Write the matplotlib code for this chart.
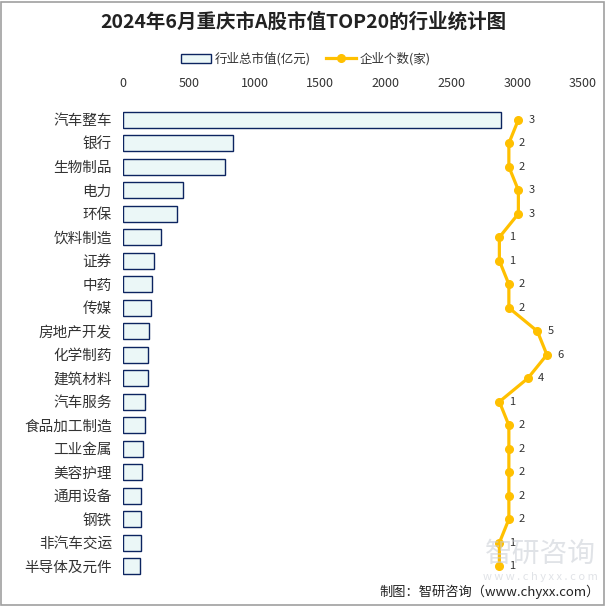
import matplotlib
matplotlib.use("Agg")
import matplotlib.pyplot as plt
from matplotlib.patches import Rectangle

plt.rcParams['font.family'] = ['Noto Sans CJK SC', 'DejaVu Sans']

# data
industries = ['汽车整车', '银行', '生物制品', '电力', '环保', '饮料制造', '证券', '中药', '传媒',
              '房地产开发', '化学制药', '建筑材料', '汽车服务', '食品加工制造', '工业金属',
              '美容护理', '通用设备', '钢铁', '非汽车交运', '半导体及元件']
market_value = [2876, 837, 779, 459, 413, 292, 238, 218, 215, 200, 193, 192, 170, 169,
                149, 148, 139, 138, 137, 132]
company_count = [3, 2, 2, 3, 3, 1, 1, 2, 2, 5, 6, 4, 1, 2, 2, 2, 2, 2, 1, 1]
xticks = [0, 500, 1000, 1500, 2000, 2500, 3000, 3500]

fig = plt.figure(figsize=(6.06, 6.06), dpi=100)

# watermark and source (drawn first so the chart sits on top)
fig.text(540 / 606, 1 - 554 / 606, '智研咨询', ha='center', va='center', fontsize=20,
         color='#C8CCD4', alpha=0.55)
fig.text(540 / 606, 1 - 577 / 606, 'w w w . c h y x x . c o m', ha='center', va='center',
         fontsize=8, color='#C8CCD4', alpha=0.55)

ax = fig.add_axes([123 / 606, 1 - 578 / 606, 460 / 606, 470 / 606])
ax.patch.set_alpha(0)

pos = list(range(len(industries)))
ax.barh(pos, market_value, height=0.68, color='#EBF7F7', edgecolor='#0C2460',
        linewidth=1.0, label='行业总市值(亿元)')
ax.set_xlim(0, 3500)
ax.set_ylim(len(industries) - 0.5, -0.5)
ax.set_xticks(xticks)
ax.set_yticks(pos)
ax.set_yticklabels(industries)
for s in ax.spines.values():
    s.set_visible(False)

# company count on a hidden secondary axis
ax2 = ax.twiny()
ax2.plot(company_count, pos, color='#FFC000', linewidth=2.3, marker='o',
         markersize=5.5, label='企业个数(家)')
ax2.set_xlim(-38.6, 9.8)
ax2.set_ylim(len(industries) - 0.5, -0.5)
ax2.axis('off')
for c, p in zip(company_count, pos):
    ax2.annotate(str(c), (c, p), xytext=(9.5, 0), textcoords='offset points',
                 va='center', ha='center', fontsize=8, color='#333333')

# value axis labels on top (after twiny, which resets them)
ax.xaxis.tick_top()
ax.tick_params(axis='x', length=0, pad=13, labelsize=9, labelcolor='#333333')
ax.tick_params(axis='y', length=0, pad=8, labelsize=10.5, labelcolor='#333333')

# legend
h1, l1 = ax.get_legend_handles_labels()
h2, l2 = ax2.get_legend_handles_labels()
fig.legend(h1 + h2, l1 + l2, loc='center', bbox_to_anchor=(306 / 606, 1 - 59 / 606),
           ncol=2, frameon=False, fontsize=9, handlelength=2.4, handleheight=0.7,
           columnspacing=1.2, handletextpad=0.3, labelcolor='#333333')

fig.text(0.5, 1 - 22 / 606, '2024年6月重庆市A股市值TOP20的行业统计图', ha='center',
         va='center', fontsize=14, fontweight='bold', color='#222222')

fig.text(600 / 606, 1 - 592 / 606, '制图：智研咨询（www.chyxx.com）', ha='right',
         va='center', fontsize=9.5, color='#222222')

fig.patches.append(Rectangle((0.001, 0.001), 0.996, 0.996, transform=fig.transFigure,
                             fill=False, edgecolor='#A0A0A0', linewidth=1.2))

fig.savefig('out.png', dpi=100)
